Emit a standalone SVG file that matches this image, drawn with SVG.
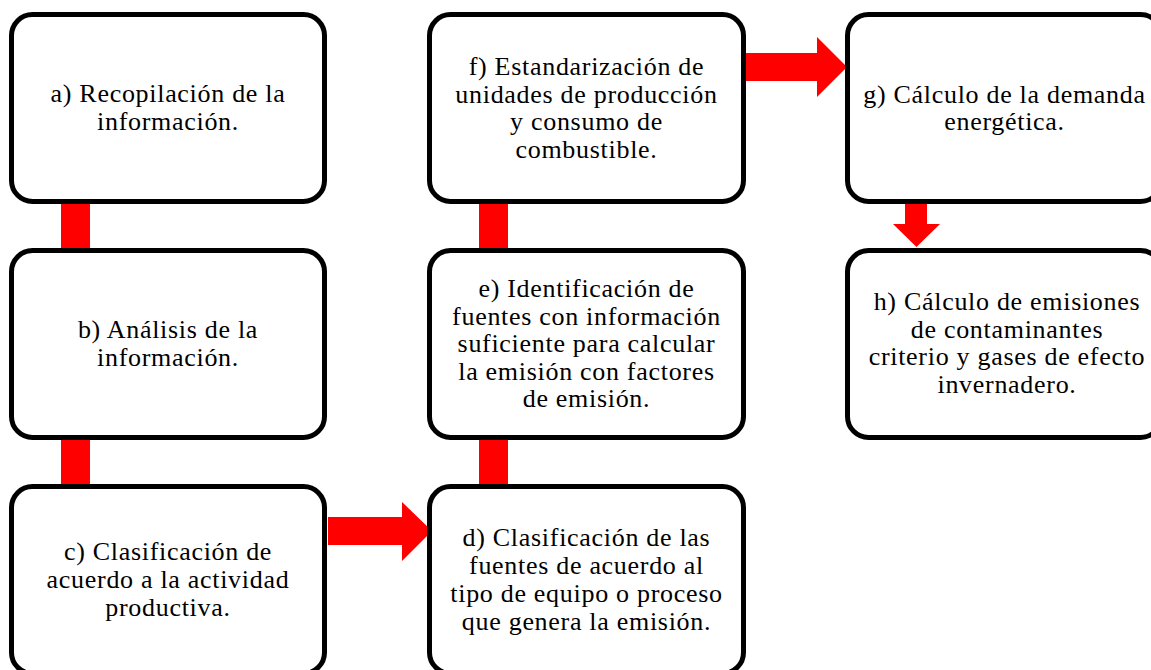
<svg xmlns="http://www.w3.org/2000/svg" width="1151" height="670" viewBox="0 0 1151 670">
<style>
.box{fill:#fff;stroke:#000;stroke-width:5}
.con{fill:#f00;stroke:none}
text{font-family:"Liberation Serif","DejaVu Serif",serif;font-size:26px;letter-spacing:0.7px;fill:#000;text-anchor:middle}
</style>
<rect width="1151" height="670" fill="#fff"/>
<g id="connectors">
<rect class="con" x="61" y="200" width="29" height="52"/>
<rect class="con" x="61" y="436" width="29" height="52"/>
<rect class="con" x="479" y="200" width="29" height="52"/>
<rect class="con" x="479" y="436" width="29" height="52"/>
<polygon class="con" points="328,517 402,517 402,502 432,531 402,561 402,545 328,545"/>
<polygon class="con" points="745,53 817,53 817,37 847,67 817,97 817,81 745,81"/>
<polygon class="con" points="905,204 927,204 927,224 940,224 916.5,247 893,224 905,224"/>
</g>
<g id="node-a">
<rect class="box" x="11.5" y="14.5" width="313" height="187" rx="21"/>
<text x="168" y="102">a) Recopilación de la</text>
<text x="168" y="130">información.</text>
</g>
<g id="node-b">
<rect class="box" x="11.5" y="250.5" width="313" height="187" rx="21"/>
<text x="168" y="338">b) Análisis de la</text>
<text x="168" y="366">información.</text>
</g>
<g id="node-c">
<rect class="box" x="11.5" y="486.5" width="313" height="187" rx="21"/>
<text x="168" y="560">c) Clasificación de</text>
<text x="168" y="588">acuerdo a la actividad</text>
<text x="168" y="616">productiva.</text>
</g>
<g id="node-d">
<rect class="box" x="429.5" y="486.5" width="314" height="187" rx="21"/>
<text x="586.5" y="546">d) Clasificación de las</text>
<text x="586.5" y="574">fuentes de acuerdo al</text>
<text x="586.5" y="602">tipo de equipo o proceso</text>
<text x="586.5" y="630">que genera la emisión.</text>
</g>
<g id="node-e">
<rect class="box" x="429.5" y="250.5" width="314" height="187" rx="21"/>
<text x="586.5" y="297">e) Identificación de</text>
<text x="586.5" y="325">fuentes con información</text>
<text x="586.5" y="352">suficiente para calcular</text>
<text x="586.5" y="380">la emisión con factores</text>
<text x="586.5" y="407">de emisión.</text>
</g>
<g id="node-f">
<rect class="box" x="429.5" y="14.5" width="314" height="187" rx="21"/>
<text x="586.5" y="75">f) Estandarización de</text>
<text x="586.5" y="103">unidades de producción</text>
<text x="586.5" y="130">y consumo de</text>
<text x="586.5" y="158">combustible.</text>
</g>
<g id="node-g">
<rect class="box" x="847.5" y="14.5" width="314" height="187" rx="21"/>
<text x="1004.5" y="103">g) Cálculo de la demanda</text>
<text x="1004.5" y="130">energética.</text>
</g>
<g id="node-h">
<rect class="box" x="847.5" y="250.5" width="314" height="187" rx="21"/>
<text x="1007" y="310">h) Cálculo de emisiones</text>
<text x="1007" y="338">de contaminantes</text>
<text x="1007" y="365">criterio y gases de efecto</text>
<text x="1007" y="393">invernadero.</text>
</g>
</svg>
